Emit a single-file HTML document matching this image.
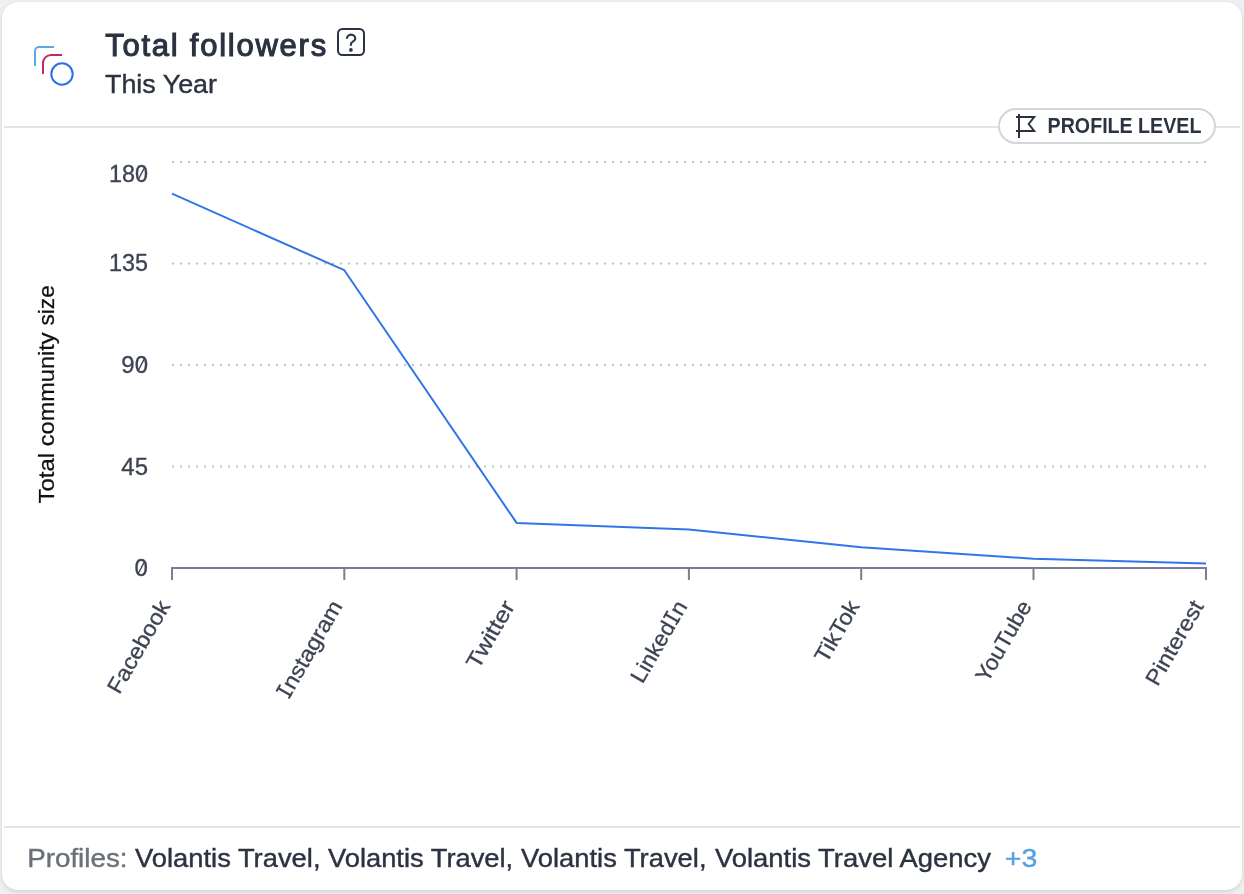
<!DOCTYPE html>
<html>
<head>
<meta charset="utf-8">
<title>Total followers</title>
<style>
  html, body { margin: 0; padding: 0; }
  body {
    width: 1244px; height: 894px; overflow: hidden;
    background: #f0f0f2;
    font-family: "Liberation Sans", sans-serif;
    position: relative;
  }
  .card {
    position: absolute; left: 2px; top: 2px; width: 1240px; height: 888px;
    background: #ffffff; border-radius: 16px;
    box-shadow: 0 1.5px 4px rgba(0,0,0,0.12);
  }
  .hr { position: absolute; left: 4px; width: 1236px; height: 2px; background: #e3e4e6; }
  .help {
    position: absolute; left: 337.2px; top: 27.9px; width: 23.6px; height: 24px;
    border: 2px solid #2b3240; border-radius: 5.5px;
  }
  .badge {
    position: absolute; left: 998px; top: 108px; width: 214px; height: 32px;
    border: 2px solid #d3d5d7; border-radius: 18px; background: #fff;
  }
  svg { position: absolute; left: 0; top: 0; will-change: transform; }
  svg text { font-family: "Liberation Sans", sans-serif; }
</style>
</head>
<body>
<div class="card"></div>
<div class="help"></div>
<div class="hr" style="top:126px"></div>
<div class="badge"></div>
<div class="hr" style="top:826px"></div>

<svg width="1244" height="894" viewBox="0 0 1244 894">
  <!-- header icon -->
  <g fill="none" stroke-width="2">
    <path d="M35 66 V51 a4 4 0 0 1 4 -4 H54" stroke="#5ea6e4"/>
    <path d="M43 74 V63 a8 8 0 0 1 8 -8 H62" stroke="#bb2d60"/>
    <circle cx="62" cy="74" r="10.7" stroke="#2c6fe8"/>
  </g>

  <!-- header text -->
  <text x="105.2" y="56.2" font-size="31" fill="#2b3240" stroke="#2b3240" stroke-width="1.1" textLength="221" lengthAdjust="spacing">Total followers</text>
  <path d="M346.9 38.8 a4.2 4.2 0 0 1 8.4 0 c0 2.7 -4.4 2.5 -4.4 5.4 v1.6" fill="none" stroke="#2b3240" stroke-width="2.1"/>
  <circle cx="350.9" cy="49.9" r="1.85" fill="#2b3240"/>
  <text x="105" y="92.8" font-size="26" fill="#2b3240" stroke="#2b3240" stroke-width="0.4" textLength="112" lengthAdjust="spacingAndGlyphs">This Year</text>

  <!-- badge -->
  <g fill="none" stroke="#2b3240" stroke-width="2">
    <path d="M1019 114 V138"/>
    <path d="M1016 117 H1034.2 L1028.7 124 L1034.2 131 H1016"/>
  </g>
  <text x="1047.6" y="133.1" font-size="21.6" font-weight="bold" fill="#2b3240" textLength="153.8" lengthAdjust="spacingAndGlyphs">PROFILE LEVEL</text>

  <!-- grid -->
  <g stroke="#bcc5ca" stroke-width="2" stroke-dasharray="2 6" fill="none">
    <path d="M172 162 H1207"/>
    <path d="M172 263.5 H1207"/>
    <path d="M172 365 H1207"/>
    <path d="M172 466.5 H1207"/>
  </g>
  <!-- axis -->
  <g stroke="#797d95" stroke-width="2" fill="none">
    <path d="M171 568 H1207"/>
    <path d="M172 568 V580 M344.3 568 V580 M516.6 568 V580 M688.9 568 V580 M861.2 568 V580 M1033.5 568 V580 M1206 568 V580"/>
  </g>
  <!-- line -->
  <path d="M172 193.7 L344.3 270.2 L516.6 522.9 L688.9 529.6 L861.2 547.3 L1033.5 558.7 L1206 563.5" fill="none" stroke="#3075e9" stroke-width="2" stroke-linejoin="round"/>

  <!-- y labels -->
  <g font-size="23" fill="#3d4352" stroke="#3d4352" stroke-width="0.3" text-anchor="end">
    <text x="148" y="182" textLength="39" lengthAdjust="spacingAndGlyphs">180</text>
    <text x="148" y="271.1" textLength="39" lengthAdjust="spacingAndGlyphs">135</text>
    <text x="148" y="372.9" textLength="26.7" lengthAdjust="spacingAndGlyphs">90</text>
    <text x="148" y="474.7" textLength="26.7" lengthAdjust="spacingAndGlyphs">45</text>
    <text x="148" y="576" textLength="13.4" lengthAdjust="spacingAndGlyphs">0</text>
  </g>
  <g stroke="#3d4352" stroke-width="1.4" fill="none" stroke-linecap="round">
    <path d="M138.4 179.3 L144.2 168.2"/>
    <path d="M138.4 370.2 L144.2 359.1"/>
    <path d="M138.4 573.3 L144.2 562.2"/>
  </g>
  <!-- y title -->
  <g transform="translate(54 503.4) rotate(-90)" font-size="22.5" fill="#111111" stroke="#111111" stroke-width="0.25">
    <text x="0" y="0" textLength="50.5" lengthAdjust="spacingAndGlyphs">Total</text>
    <text x="57.2" y="0" textLength="113.8" lengthAdjust="spacingAndGlyphs">community</text>
    <text x="177.9" y="0" textLength="40.3" lengthAdjust="spacingAndGlyphs">size</text>
  </g>

  <!-- x labels -->
  <g font-size="22" fill="#3d4352" stroke="#3d4352" stroke-width="0.3" text-anchor="end">
    <g transform="translate(170.80 606.00) rotate(-60)"><text x="0" y="0" textLength="103.2" lengthAdjust="spacingAndGlyphs">Facebook</text></g>
    <g transform="translate(343.10 606.00) rotate(-60)"><text x="-103.4" y="0" text-anchor="middle">I</text><path d="M-107.4 -0.9 H-99.4 M-107.4 -15.1 H-99.4" stroke="#3d4352" stroke-width="1.9" fill="none"/><text x="0" y="0" textLength="98.2" lengthAdjust="spacingAndGlyphs">nstagram</text></g>
    <g transform="translate(515.40 606.00) rotate(-60)"><text x="0" y="0" textLength="74.5" lengthAdjust="spacingAndGlyphs">Twitter</text></g>
    <g transform="translate(687.90 606.00) rotate(-60)"><text x="-23.9" y="0" textLength="66.7" lengthAdjust="spacingAndGlyphs">Linked</text><text x="-18.3" y="0" text-anchor="middle">I</text><path d="M-22.3 -0.9 H-14.3 M-22.3 -15.1 H-14.3" stroke="#3d4352" stroke-width="1.9" fill="none"/><text x="0" y="0" textLength="12.9" lengthAdjust="spacingAndGlyphs">n</text></g>
    <g transform="translate(860.20 606.00) rotate(-60)"><text x="0" y="0" textLength="67.4" lengthAdjust="spacingAndGlyphs">TikTok</text></g>
    <g transform="translate(1032.30 606.00) rotate(-60)"><text x="0" y="0" textLength="89.8" lengthAdjust="spacingAndGlyphs">YouTube</text></g>
    <g transform="translate(1204.40 606.00) rotate(-60)"><text x="0" y="0" textLength="93.8" lengthAdjust="spacingAndGlyphs">Pinterest</text></g>
  </g>

  <!-- footer -->
  <g font-size="26" fill="#2b3240" stroke="#2b3240" stroke-width="0.4">
    <text x="27.2" y="866.8" fill="#6b7178" stroke="#6b7178" textLength="100.3" lengthAdjust="spacingAndGlyphs">Profiles:</text>
    <text x="135" y="866.8" textLength="185.5" lengthAdjust="spacingAndGlyphs">Volantis Travel,</text>
    <text x="328" y="866.8" textLength="185.2" lengthAdjust="spacingAndGlyphs">Volantis Travel,</text>
    <text x="521" y="866.8" textLength="185.5" lengthAdjust="spacingAndGlyphs">Volantis Travel,</text>
    <text x="714.9" y="866.8" textLength="276" lengthAdjust="spacingAndGlyphs">Volantis Travel Agency</text>
    <text x="1004.8" y="866.8" fill="#58a1df" stroke="#58a1df" textLength="32.5" lengthAdjust="spacingAndGlyphs">+3</text>
  </g>
</svg>
</body>
</html>
